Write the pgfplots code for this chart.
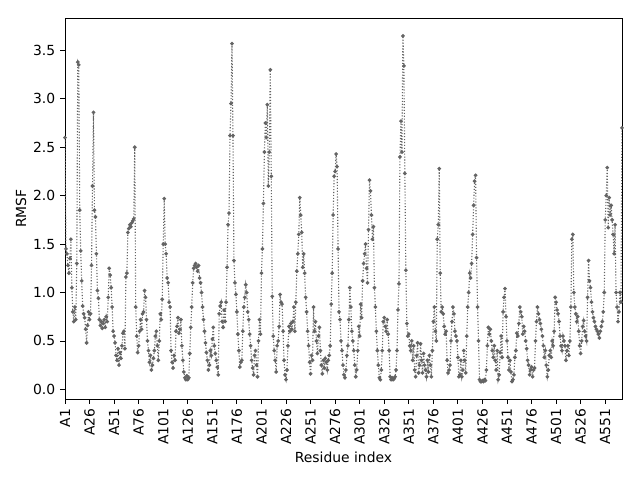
\documentclass[border=0pt]{standalone}
\usepackage{fontspec}
\setmainfont{DejaVu Sans}
\usepackage{pgfplots}
\usepackage{pgfplotstable}
\pgfplotsset{compat=1.18}
\definecolor{lc}{RGB}{100,100,100}
\pgfplotstableread[row sep=\\]{
r\\
2.60\\ 1.45\\
1.40\\ 1.28\\ 1.20\\ 1.35\\ 1.55\\ 1.05\\ 0.80\\ 0.70\\ 0.85\\
0.72\\ 1.30\\ 3.38\\ 3.35\\ 1.85\\ 1.43\\ 1.12\\ 0.86\\ 0.78\\ 0.74\\
0.62\\ 0.48\\ 0.66\\ 0.80\\ 0.72\\ 0.78\\ 1.28\\ 2.10\\ 2.86\\ 1.85\\
1.78\\ 1.40\\ 1.02\\ 0.94\\ 0.72\\ 0.66\\ 0.70\\ 0.63\\ 0.68\\ 0.72\\
0.64\\ 0.75\\ 0.70\\ 0.95\\ 1.25\\ 1.18\\ 1.05\\ 0.85\\ 0.60\\ 0.55\\
0.48\\ 0.35\\ 0.30\\ 0.42\\ 0.25\\ 0.38\\ 0.32\\ 0.45\\ 0.58\\ 0.60\\
0.42\\ 1.16\\ 1.20\\ 1.62\\ 1.66\\ 1.70\\ 1.68\\ 1.72\\ 1.74\\ 1.76\\
2.50\\ 0.85\\ 0.55\\ 0.38\\ 0.45\\ 0.60\\ 0.72\\ 0.62\\ 0.78\\ 0.80\\
1.02\\ 0.95\\ 0.72\\ 0.50\\ 0.40\\ 0.28\\ 0.35\\ 0.20\\ 0.25\\ 0.32\\
0.40\\ 0.55\\ 0.60\\ 0.45\\ 0.30\\ 0.50\\ 0.78\\ 0.72\\ 0.93\\ 1.50\\
1.97\\ 1.50\\ 1.40\\ 1.15\\ 1.10\\ 0.90\\ 0.85\\ 0.40\\ 0.28\\ 0.22\\
0.35\\ 0.30\\ 0.60\\ 0.65\\ 0.74\\ 0.58\\ 0.62\\ 0.72\\ 0.45\\ 0.30\\
0.18\\ 0.12\\ 0.10\\ 0.14\\ 0.10\\ 0.12\\ 0.37\\ 0.64\\ 0.85\\ 1.10\\
1.25\\ 1.28\\ 1.30\\ 1.26\\ 1.22\\ 1.28\\ 1.15\\ 1.10\\ 1.00\\ 0.85\\
0.72\\ 0.60\\ 0.48\\ 0.38\\ 0.30\\ 0.20\\ 0.25\\ 0.40\\ 0.35\\ 0.52\\
0.64\\ 0.45\\ 0.37\\ 0.30\\ 0.23\\ 0.15\\ 0.78\\ 0.86\\ 0.90\\ 0.70\\
0.64\\ 0.82\\ 0.70\\ 0.90\\ 1.26\\ 1.70\\ 1.82\\ 2.62\\ 2.95\\ 3.57\\
2.62\\ 1.33\\ 1.10\\ 0.98\\ 0.80\\ 0.57\\ 0.40\\ 0.23\\ 0.28\\ 0.30\\
0.60\\ 0.85\\ 0.95\\ 1.08\\ 1.00\\ 0.80\\ 0.72\\ 0.57\\ 0.45\\ 0.30\\
0.22\\ 0.15\\ 0.35\\ 0.40\\ 0.25\\ 0.13\\ 0.50\\ 0.72\\ 0.57\\ 1.20\\
1.45\\ 1.92\\ 2.45\\ 2.75\\ 2.60\\ 2.94\\ 2.10\\ 2.45\\ 3.30\\ 2.20\\
0.96\\ 0.55\\ 0.40\\ 0.30\\ 0.18\\ 0.45\\ 0.50\\ 0.65\\ 0.98\\ 0.90\\
0.88\\ 0.60\\ 0.30\\ 0.15\\ 0.10\\ 0.20\\ 0.45\\ 0.65\\ 0.60\\ 0.68\\
0.62\\ 0.70\\ 0.85\\ 0.60\\ 0.90\\ 1.22\\ 1.40\\ 1.60\\ 1.98\\ 1.80\\
1.62\\ 1.26\\ 1.40\\ 1.20\\ 0.95\\ 0.80\\ 0.60\\ 0.45\\ 0.28\\ 0.16\\
0.35\\ 0.30\\ 0.85\\ 0.60\\ 0.70\\ 0.50\\ 0.37\\ 0.55\\ 0.64\\ 0.40\\
0.25\\ 0.16\\ 0.30\\ 0.22\\ 0.32\\ 0.28\\ 0.20\\ 0.30\\ 0.35\\ 0.45\\
0.88\\ 1.20\\ 1.80\\ 2.20\\ 2.25\\ 2.43\\ 2.30\\ 1.45\\ 0.80\\ 0.72\\
0.50\\ 0.40\\ 0.25\\ 0.15\\ 0.12\\ 0.20\\ 0.35\\ 0.45\\ 0.72\\ 1.05\\
0.85\\ 0.60\\ 0.50\\ 0.40\\ 0.25\\ 0.13\\ 0.20\\ 0.40\\ 0.65\\ 0.55\\
0.88\\ 0.74\\ 1.12\\ 1.30\\ 1.40\\ 1.50\\ 1.25\\ 1.10\\ 1.65\\ 2.16\\
2.05\\ 1.80\\ 1.55\\ 1.68\\ 1.05\\ 0.85\\ 0.60\\ 0.40\\ 0.25\\ 0.12\\
0.10\\ 0.20\\ 0.40\\ 0.70\\ 0.74\\ 0.65\\ 0.60\\ 0.72\\ 0.57\\ 0.40\\
0.13\\ 0.10\\ 0.12\\ 0.10\\ 0.11\\ 0.13\\ 0.20\\ 0.40\\ 0.82\\ 1.09\\
2.40\\ 2.77\\ 2.45\\ 3.65\\ 3.34\\ 2.23\\ 1.23\\ 0.68\\ 0.55\\ 0.57\\
0.45\\ 0.40\\ 0.50\\ 0.30\\ 0.45\\ 0.20\\ 0.13\\ 0.35\\ 0.48\\ 0.17\\
0.25\\ 0.47\\ 0.30\\ 0.17\\ 0.37\\ 0.25\\ 0.20\\ 0.13\\ 0.30\\ 0.18\\
0.35\\ 0.25\\ 0.13\\ 0.40\\ 0.70\\ 0.85\\ 0.60\\ 0.50\\ 1.55\\ 1.70\\
2.28\\ 1.20\\ 0.80\\ 0.85\\ 0.78\\ 0.65\\ 0.57\\ 0.60\\ 0.30\\ 0.17\\
0.20\\ 0.25\\ 0.50\\ 0.70\\ 0.85\\ 0.78\\ 0.60\\ 0.55\\ 0.50\\ 0.33\\
0.13\\ 0.15\\ 0.30\\ 0.13\\ 0.20\\ 0.40\\ 0.30\\ 0.17\\ 0.55\\ 0.85\\
1.00\\ 1.20\\ 1.15\\ 1.30\\ 1.60\\ 1.90\\ 2.15\\ 2.21\\ 1.36\\ 0.85\\
0.50\\ 0.10\\ 0.08\\ 0.08\\ 0.09\\ 0.08\\ 0.10\\ 0.09\\ 0.20\\ 0.45\\
0.64\\ 0.57\\ 0.62\\ 0.50\\ 0.40\\ 0.33\\ 0.45\\ 0.30\\ 0.20\\ 0.40\\
0.10\\ 0.15\\ 0.38\\ 0.55\\ 0.33\\ 0.80\\ 0.95\\ 1.04\\ 0.75\\ 0.50\\
0.33\\ 0.20\\ 0.30\\ 0.18\\ 0.08\\ 0.10\\ 0.15\\ 0.33\\ 0.40\\ 0.58\\
0.55\\ 0.68\\ 0.85\\ 0.80\\ 0.75\\ 0.57\\ 0.65\\ 0.60\\ 0.50\\ 0.42\\
0.30\\ 0.25\\ 0.15\\ 0.20\\ 0.23\\ 0.13\\ 0.20\\ 0.22\\ 0.50\\ 0.70\\
0.85\\ 0.78\\ 0.72\\ 0.68\\ 0.62\\ 0.55\\ 0.45\\ 0.33\\ 0.40\\ 0.25\\
0.13\\ 0.20\\ 0.35\\ 0.40\\ 0.33\\ 0.50\\ 0.45\\ 0.60\\ 0.95\\ 0.90\\
0.82\\ 0.78\\ 0.70\\ 0.55\\ 0.45\\ 0.40\\ 0.55\\ 0.50\\ 0.45\\ 0.30\\
0.40\\ 0.45\\ 0.35\\ 0.50\\ 0.85\\ 1.55\\ 1.60\\ 1.00\\ 0.85\\ 0.78\\
0.70\\ 0.75\\ 0.60\\ 0.45\\ 0.37\\ 0.50\\ 0.65\\ 0.71\\ 0.60\\ 0.55\\
0.50\\ 0.95\\ 1.33\\ 1.12\\ 1.05\\ 0.90\\ 0.80\\ 0.74\\ 0.70\\ 0.65\\
0.62\\ 0.60\\ 0.57\\ 0.53\\ 0.60\\ 0.65\\ 0.70\\ 0.80\\ 1.00\\ 1.75\\
2.00\\ 2.29\\ 1.67\\ 1.98\\ 1.80\\ 1.90\\ 1.75\\ 1.60\\ 1.40\\ 1.70\\
1.00\\ 0.85\\ 0.70\\ 0.80\\ 1.00\\ 0.90\\ 2.70\\
}\rmsf
\begin{document}
\begin{tikzpicture}
\useasboundingbox (-46.8pt,-58.3pt) rectangle (414pt,287.3pt);
\begin{axis}[
  at={(0,0)}, anchor=south west,
  scale only axis, width=401pt, height=274pt,
  xmin=0, xmax=567, ymin=-0.10, ymax=3.83,
  axis line style={line width=0.6pt},
  tick align=outside, tick pos=left,
  major tick length=3.5pt,
  every tick/.style={black, line width=0.6pt},
  xtick={0,25,...,550},
  xticklabels={A1,A26,A51,A76,A101,A126,A151,A176,A201,A226,A251,A276,A301,A326,A351,A376,A401,A426,A451,A476,A501,A526,A551},
  x tick label style={rotate=90, anchor=east, font=\fontsize{10}{12}\selectfont},
  ytick={0,0.5,...,3.5},
  y tick label style={font=\fontsize{10}{12}\selectfont},
  yticklabel style={/pgf/number format/fixed, /pgf/number format/precision=1, /pgf/number format/fixed zerofill},
  /pgf/number format/assume math mode=true,
  xlabel={Residue index}, ylabel={RMSF},
  label style={font=\fontsize{10}{12}\selectfont},
  xlabel style={yshift=2pt},
  ylabel style={yshift=-2pt},
]
\addplot[color=lc, line width=0.8pt, dash pattern=on 0.8pt off 1.3pt,
  mark=*, mark size=0.9pt, mark options={solid, fill=lc, draw=lc}]
  table[x expr=\coordindex, y=r] {\rmsf};
\end{axis}
\end{tikzpicture}
\end{document}
